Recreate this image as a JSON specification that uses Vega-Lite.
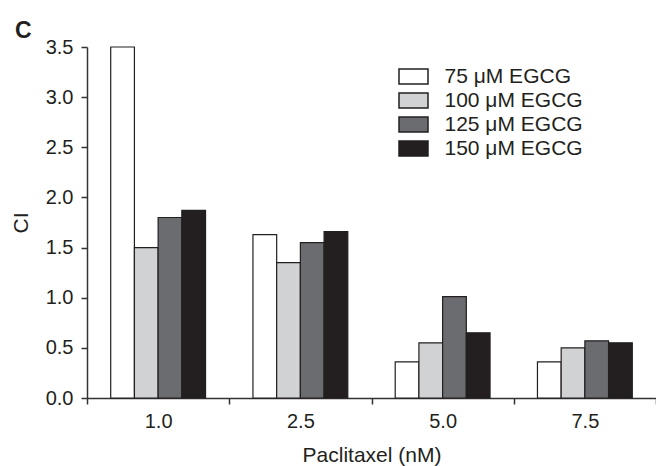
{
  "$schema": "https://vega.github.io/schema/vega-lite/v6.json",
  "autosize": "none",
  "width": 569,
  "height": 351,
  "padding": {"left": 87, "top": 47, "right": 0, "bottom": 68},
  "background": "white",
  "title": {"text": "C", "anchor": "start", "frame": "group", "dx": -72, "offset": -6, "fontSize": 23, "fontWeight": "bold", "font": "Liberation Sans", "color": "#231f20"},
  "config": {
    "view": {"stroke": null},
    "font": "Liberation Sans",
    "axis": {"labelFont": "Liberation Sans", "titleFont": "Liberation Sans", "labelColor": "#231f20", "titleColor": "#231f20", "domainColor": "#333333", "tickColor": "#333333", "domainWidth": 1.5, "tickWidth": 1.5, "tickSize": 6, "labelFontSize": 20, "titleFontSize": 21, "titleFontWeight": "normal", "grid": false},
    "legend": {"labelFont": "Liberation Sans", "labelFontSize": 21, "labelColor": "#231f20"}
  },
  "data": {
    "values": [
      {"p": "1.0", "egcg": "75 μM EGCG", "ci": 3.5},
      {"p": "1.0", "egcg": "100 μM EGCG", "ci": 1.5},
      {"p": "1.0", "egcg": "125 μM EGCG", "ci": 1.8},
      {"p": "1.0", "egcg": "150 μM EGCG", "ci": 1.87},
      {"p": "2.5", "egcg": "75 μM EGCG", "ci": 1.63},
      {"p": "2.5", "egcg": "100 μM EGCG", "ci": 1.35},
      {"p": "2.5", "egcg": "125 μM EGCG", "ci": 1.55},
      {"p": "2.5", "egcg": "150 μM EGCG", "ci": 1.66},
      {"p": "5.0", "egcg": "75 μM EGCG", "ci": 0.36},
      {"p": "5.0", "egcg": "100 μM EGCG", "ci": 0.55},
      {"p": "5.0", "egcg": "125 μM EGCG", "ci": 1.01},
      {"p": "5.0", "egcg": "150 μM EGCG", "ci": 0.65},
      {"p": "7.5", "egcg": "75 μM EGCG", "ci": 0.36},
      {"p": "7.5", "egcg": "100 μM EGCG", "ci": 0.5},
      {"p": "7.5", "egcg": "125 μM EGCG", "ci": 0.57},
      {"p": "7.5", "egcg": "150 μM EGCG", "ci": 0.55}
    ]
  },
  "mark": {"type": "bar", "stroke": "#231f20", "strokeWidth": 1.2},
  "encoding": {
    "x": {
      "field": "p", "type": "nominal", "sort": ["1.0", "2.5", "5.0", "7.5"],
      "scale": {"paddingInner": 0, "paddingOuter": 0},
      "axis": {"title": "Paclitaxel (nM)", "labelAngle": 0, "tickBand": "extent", "labelPadding": 7, "titlePadding": 13}
    },
    "xOffset": {
      "field": "egcg", "type": "nominal",
      "sort": ["75 μM EGCG", "100 μM EGCG", "125 μM EGCG", "150 μM EGCG"],
      "scale": {"paddingInner": 0, "paddingOuter": 1.09}
    },
    "y": {
      "field": "ci", "type": "quantitative",
      "scale": {"domain": [0, 3.5], "nice": false},
      "axis": {"title": "CI", "values": [0, 0.5, 1, 1.5, 2, 2.5, 3, 3.5], "format": ".1f", "labelPadding": 8, "titlePadding": 14}
    },
    "fill": {
      "field": "egcg", "type": "nominal",
      "sort": ["75 μM EGCG", "100 μM EGCG", "125 μM EGCG", "150 μM EGCG"],
      "scale": {"domain": ["75 μM EGCG", "100 μM EGCG", "125 μM EGCG", "150 μM EGCG"], "range": ["#ffffff", "#d1d2d4", "#6b6c70", "#231f20"]},
      "legend": {
        "title": null, "orient": "none", "legendX": 315.5, "legendY": 18.5, "padding": 0,
        "symbolType": "M-1.45,-0.75H1.45V0.75H-1.45Z", "symbolSize": 400, "symbolStrokeColor": "#231f20", "symbolStrokeWidth": 1.5, "symbolOpacity": 1,
        "labelOffset": 20, "rowPadding": 2
      }
    }
  }
}
